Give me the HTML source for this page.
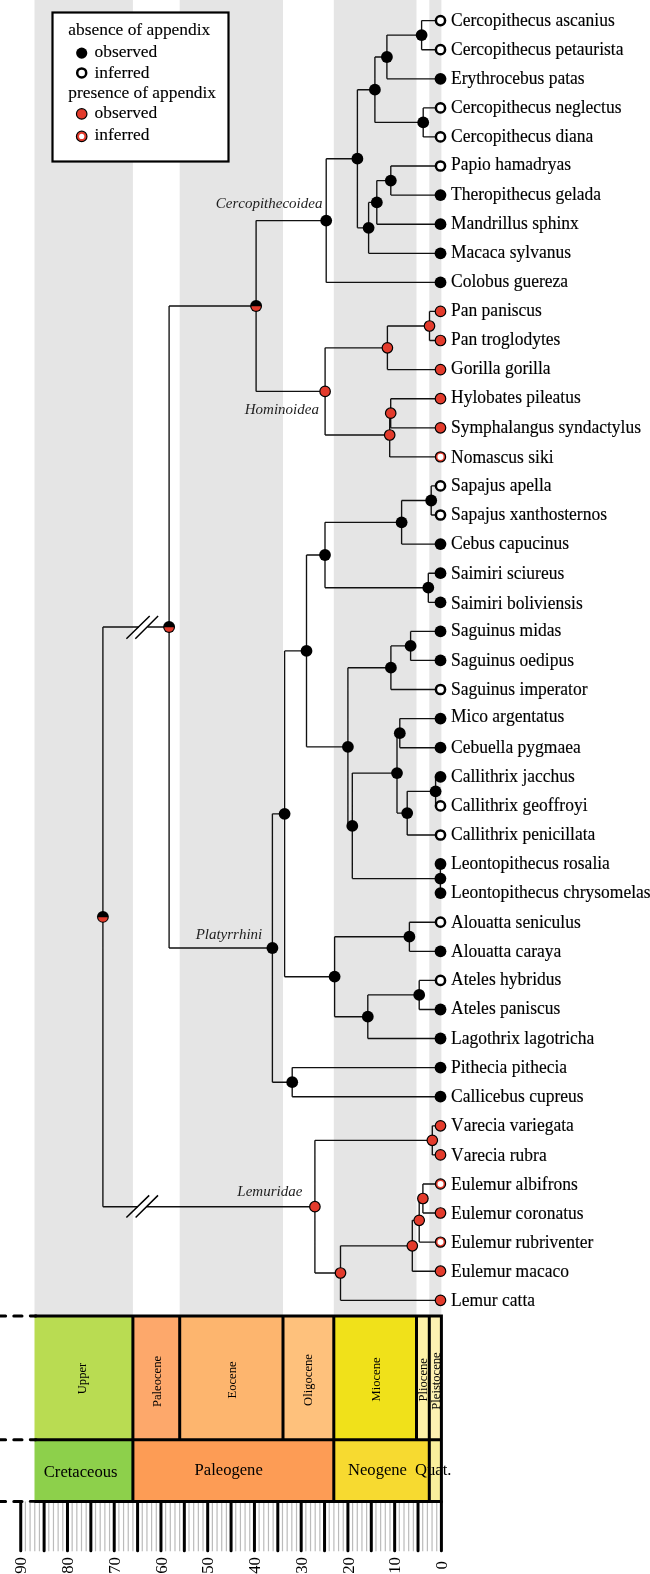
<!DOCTYPE html>
<html><head><meta charset="utf-8"><style>
html,body{margin:0;padding:0;background:#fff;}
svg{display:block;will-change:transform;}
text{font-kerning:none;}
</style></head><body>
<svg width="650" height="1574" viewBox="0 0 650 1574">
<rect x="34.5" y="0" width="98.4" height="1316" fill="#e5e5e5"/>
<rect x="179.7" y="0" width="103.3" height="1316" fill="#e5e5e5"/>
<rect x="333.8" y="0" width="82.7" height="1316" fill="#e5e5e5"/>
<rect x="429.3" y="0" width="12.1" height="1316" fill="#e5e5e5"/>
<rect x="52.5" y="12.5" width="176" height="149" fill="#fff" stroke="#000" stroke-width="2.2"/>
<text x="68.3" y="34.9" font-family="Liberation Serif" font-size="17.4" stroke="#000" stroke-width="0.12">absence of appendix</text>
<text x="94.5" y="56.8" font-family="Liberation Serif" font-size="17.4" stroke="#000" stroke-width="0.12">observed</text>
<text x="94.5" y="77.5" font-family="Liberation Serif" font-size="17.4" stroke="#000" stroke-width="0.12">inferred</text>
<text x="68.3" y="98.3" font-family="Liberation Serif" font-size="17.4" stroke="#000" stroke-width="0.12">presence of appendix</text>
<text x="94.5" y="118.2" font-family="Liberation Serif" font-size="17.4" stroke="#000" stroke-width="0.12">observed</text>
<text x="94.5" y="140.1" font-family="Liberation Serif" font-size="17.4" stroke="#000" stroke-width="0.12">inferred</text>
<circle cx="81.7" cy="53.1" r="5.60" fill="#000"/>
<circle cx="81.7" cy="72.9" r="4.50" fill="#fff" stroke="#000" stroke-width="2.5"/>
<circle cx="81.7" cy="113.9" r="5.25" fill="#e33b2c" stroke="#000" stroke-width="1.2"/>
<circle cx="81.7" cy="136.4" r="5.25" fill="#e33b2c" stroke="#000" stroke-width="1.2"/><circle cx="81.7" cy="136.4" r="2.6" fill="#fff"/>
<path d="M421.6 20.6V49.7M421.6 20.6H440.5M421.6 49.7H440.5M386.9 35.1V78.8M386.9 35.1H421.6M386.9 78.8H440.5M423.2 107.9V136.9M423.2 107.9H440.5M423.2 136.9H440.5M374.9 57.0V122.4M374.9 57.0H386.9M374.9 122.4H423.2M390.8 166.0V195.1M390.8 166.0H440.5M390.8 195.1H440.5M376.8 180.6V224.2M376.8 180.6H390.8M376.8 224.2H440.5M368.6 202.4V253.3M368.6 202.4H376.8M368.6 253.3H440.5M357.4 89.7V227.8M357.4 89.7H374.9M357.4 227.8H368.6M326.2 158.7V282.4M326.2 158.7H357.4M326.2 282.4H440.5M429.5 311.4V340.5M429.5 311.4H440.5M429.5 340.5H440.5M387.4 326.0V369.6M387.4 326.0H429.5M387.4 369.6H440.5M390.7 398.7V427.8M390.7 398.7H440.5M390.7 427.8H440.5M389.7 413.2V456.9M389.7 413.2H390.7M389.7 456.9H440.5M325.1 347.8V435.0M325.1 347.8H387.4M325.1 435.0H389.7M256.1 220.6V391.4M256.1 220.6H326.2M256.1 391.4H325.1M431.2 485.9V515.0M431.2 485.9H440.5M431.2 515.0H440.5M401.6 500.5V544.1M401.6 500.5H431.2M401.6 544.1H440.5M428.3 573.2V602.3M428.3 573.2H440.5M428.3 602.3H440.5M325.0 522.3V587.7M325.0 522.3H401.6M325.0 587.7H428.3M410.6 631.4V660.4M410.6 631.4H440.5M410.6 660.4H440.5M390.9 645.9V689.5M390.9 645.9H410.6M390.9 689.5H440.5M399.8 718.6V747.7M399.8 718.6H440.5M399.8 747.7H440.5M435.6 776.8V805.9M435.6 776.8H440.5M435.6 805.9H440.5M407.2 791.3V835.0M407.2 791.3H435.6M407.2 835.0H440.5M397.0 733.2V813.1M397.0 733.2H399.8M397.0 813.1H407.2M440.4 864.0V893.1M440.4 864.0H440.5M440.4 893.1H440.5M352.3 773.1V878.6M352.3 773.1H397.0M352.3 878.6H440.4M347.9 667.7V825.9M347.9 667.7H390.9M347.9 825.9H352.3M306.5 555.0V746.8M306.5 555.0H325.0M306.5 746.8H347.9M409.4 922.2V951.3M409.4 922.2H440.5M409.4 951.3H440.5M419.2 980.4V1009.5M419.2 980.4H440.5M419.2 1009.5H440.5M367.8 994.9V1038.5M367.8 994.9H419.2M367.8 1038.5H440.5M334.6 936.7V1016.7M334.6 936.7H409.4M334.6 1016.7H367.8M284.6 650.9V976.7M284.6 650.9H306.5M284.6 976.7H334.6M292.2 1067.6V1096.7M292.2 1067.6H440.5M292.2 1096.7H440.5M272.4 813.8V1082.2M272.4 813.8H284.6M272.4 1082.2H292.2M169.1 306.0V948.0M169.1 306.0H256.1M169.1 948.0H272.4M432.3 1125.8V1154.9M432.3 1125.8H440.5M432.3 1154.9H440.5M422.9 1184.0V1213.0M422.9 1184.0H440.5M422.9 1213.0H440.5M419.2 1198.5V1242.1M419.2 1198.5H422.9M419.2 1242.1H440.5M412.3 1220.3V1271.2M412.3 1220.3H419.2M412.3 1271.2H440.5M340.5 1245.8V1300.3M340.5 1245.8H412.3M340.5 1300.3H440.5M314.9 1140.3V1273.0M314.9 1140.3H432.3M314.9 1273.0H340.5M102.9 627.0V1206.7M102.9 627.0H138.7M147.5 627.0H169.1M102.9 1206.7H137.6M146.6 1206.7H314.9M102.9 916.8" fill="none" stroke="#111" stroke-width="1.35"/>
<path d="M126.4 638.8L149.7 616.0M135.3 638.8L158.1 616.0M126.4 1217.5L149.2 1195.4M135.6 1217.5L158.0 1195.4" stroke="#000" stroke-width="1.5" fill="none"/>
<circle cx="421.6" cy="35.1" r="5.90" fill="#000"/>
<circle cx="386.9" cy="57.0" r="5.90" fill="#000"/>
<circle cx="423.2" cy="122.4" r="5.90" fill="#000"/>
<circle cx="374.9" cy="89.7" r="5.90" fill="#000"/>
<circle cx="390.8" cy="180.6" r="5.90" fill="#000"/>
<circle cx="376.8" cy="202.4" r="5.90" fill="#000"/>
<circle cx="368.6" cy="227.8" r="5.90" fill="#000"/>
<circle cx="357.4" cy="158.7" r="5.90" fill="#000"/>
<circle cx="326.2" cy="220.6" r="5.90" fill="#000"/>
<circle cx="429.5" cy="326.0" r="5.25" fill="#e33b2c" stroke="#000" stroke-width="1.2"/>
<circle cx="387.4" cy="347.8" r="5.25" fill="#e33b2c" stroke="#000" stroke-width="1.2"/>
<circle cx="390.7" cy="413.2" r="5.25" fill="#e33b2c" stroke="#000" stroke-width="1.2"/>
<circle cx="389.7" cy="435.0" r="5.25" fill="#e33b2c" stroke="#000" stroke-width="1.2"/>
<circle cx="325.1" cy="391.4" r="5.25" fill="#e33b2c" stroke="#000" stroke-width="1.2"/>
<circle cx="256.1" cy="305.99" r="5.95" fill="#000"/><path d="M251.36 306.34A4.75 4.75 0 0 0 260.84 306.34Z" fill="#e33b2c"/>
<circle cx="431.2" cy="500.5" r="5.90" fill="#000"/>
<circle cx="401.6" cy="522.3" r="5.90" fill="#000"/>
<circle cx="428.3" cy="587.7" r="5.90" fill="#000"/>
<circle cx="325.0" cy="555.0" r="5.90" fill="#000"/>
<circle cx="410.6" cy="645.9" r="5.90" fill="#000"/>
<circle cx="390.9" cy="667.7" r="5.90" fill="#000"/>
<circle cx="399.8" cy="733.2" r="5.90" fill="#000"/>
<circle cx="435.6" cy="791.3" r="5.90" fill="#000"/>
<circle cx="407.2" cy="813.1" r="5.90" fill="#000"/>
<circle cx="397.0" cy="773.1" r="5.90" fill="#000"/>
<circle cx="440.4" cy="878.6" r="5.90" fill="#000"/>
<circle cx="352.3" cy="825.9" r="5.90" fill="#000"/>
<circle cx="347.9" cy="746.8" r="5.90" fill="#000"/>
<circle cx="306.5" cy="650.9" r="5.90" fill="#000"/>
<circle cx="409.4" cy="936.7" r="5.90" fill="#000"/>
<circle cx="419.2" cy="994.9" r="5.90" fill="#000"/>
<circle cx="367.8" cy="1016.7" r="5.90" fill="#000"/>
<circle cx="334.6" cy="976.7" r="5.90" fill="#000"/>
<circle cx="284.6" cy="813.8" r="5.90" fill="#000"/>
<circle cx="292.2" cy="1082.2" r="5.90" fill="#000"/>
<circle cx="272.4" cy="948.0" r="5.90" fill="#000"/>
<circle cx="169.1" cy="626.99" r="5.95" fill="#000"/><path d="M164.36 627.34A4.75 4.75 0 0 0 173.84 627.34Z" fill="#e33b2c"/>
<circle cx="432.3" cy="1140.3" r="5.25" fill="#e33b2c" stroke="#000" stroke-width="1.2"/>
<circle cx="422.9" cy="1198.5" r="5.25" fill="#e33b2c" stroke="#000" stroke-width="1.2"/>
<circle cx="419.2" cy="1220.3" r="5.25" fill="#e33b2c" stroke="#000" stroke-width="1.2"/>
<circle cx="412.3" cy="1245.8" r="5.25" fill="#e33b2c" stroke="#000" stroke-width="1.2"/>
<circle cx="340.5" cy="1273.0" r="5.25" fill="#e33b2c" stroke="#000" stroke-width="1.2"/>
<circle cx="314.9" cy="1206.7" r="5.25" fill="#e33b2c" stroke="#000" stroke-width="1.2"/>
<circle cx="102.9" cy="916.84" r="5.95" fill="#000"/><path d="M98.16 917.19A4.75 4.75 0 0 0 107.64 917.19Z" fill="#e33b2c"/>
<circle cx="440.5" cy="20.6" r="4.60" fill="#fff" stroke="#000" stroke-width="2.5"/>
<text transform="translate(451.0 25.70) scale(1 1.05)" font-family="Liberation Serif" font-size="17.5" stroke="#000" stroke-width="0.15">Cercopithecus ascanius</text>
<circle cx="440.5" cy="49.7" r="4.60" fill="#fff" stroke="#000" stroke-width="2.5"/>
<text transform="translate(451.0 55.02) scale(1 1.05)" font-family="Liberation Serif" font-size="17.5" stroke="#000" stroke-width="0.15">Cercopithecus petaurista</text>
<circle cx="440.5" cy="78.8" r="5.90" fill="#000"/>
<text transform="translate(451.0 83.64) scale(1 1.05)" font-family="Liberation Serif" font-size="17.5" stroke="#000" stroke-width="0.15">Erythrocebus patas</text>
<circle cx="440.5" cy="107.9" r="4.60" fill="#fff" stroke="#000" stroke-width="2.5"/>
<text transform="translate(451.0 113.25) scale(1 1.05)" font-family="Liberation Serif" font-size="17.5" stroke="#000" stroke-width="0.15">Cercopithecus neglectus</text>
<circle cx="440.5" cy="136.9" r="4.60" fill="#fff" stroke="#000" stroke-width="2.5"/>
<text transform="translate(451.0 142.37) scale(1 1.05)" font-family="Liberation Serif" font-size="17.5" stroke="#000" stroke-width="0.15">Cercopithecus diana</text>
<circle cx="440.5" cy="166.0" r="4.60" fill="#fff" stroke="#000" stroke-width="2.5"/>
<text transform="translate(451.0 170.49) scale(1 1.05)" font-family="Liberation Serif" font-size="17.5" stroke="#000" stroke-width="0.15">Papio hamadryas</text>
<circle cx="440.5" cy="195.1" r="5.90" fill="#000"/>
<text transform="translate(451.0 199.61) scale(1 1.05)" font-family="Liberation Serif" font-size="17.5" stroke="#000" stroke-width="0.15">Theropithecus gelada</text>
<circle cx="440.5" cy="224.2" r="5.90" fill="#000"/>
<text transform="translate(451.0 228.73) scale(1 1.05)" font-family="Liberation Serif" font-size="17.5" stroke="#000" stroke-width="0.15">Mandrillus sphinx</text>
<circle cx="440.5" cy="253.3" r="5.90" fill="#000"/>
<text transform="translate(451.0 257.84) scale(1 1.05)" font-family="Liberation Serif" font-size="17.5" stroke="#000" stroke-width="0.15">Macaca sylvanus</text>
<circle cx="440.5" cy="282.4" r="5.90" fill="#000"/>
<text transform="translate(451.0 286.96) scale(1 1.05)" font-family="Liberation Serif" font-size="17.5" stroke="#000" stroke-width="0.15">Colobus guereza</text>
<circle cx="440.5" cy="311.4" r="5.25" fill="#e33b2c" stroke="#000" stroke-width="1.2"/>
<text transform="translate(451.0 316.08) scale(1 1.05)" font-family="Liberation Serif" font-size="17.5" stroke="#000" stroke-width="0.15">Pan paniscus</text>
<circle cx="440.5" cy="340.5" r="5.25" fill="#e33b2c" stroke="#000" stroke-width="1.2"/>
<text transform="translate(451.0 345.20) scale(1 1.05)" font-family="Liberation Serif" font-size="17.5" stroke="#000" stroke-width="0.15">Pan troglodytes</text>
<circle cx="440.5" cy="369.6" r="5.25" fill="#e33b2c" stroke="#000" stroke-width="1.2"/>
<text transform="translate(451.0 374.32) scale(1 1.05)" font-family="Liberation Serif" font-size="17.5" stroke="#000" stroke-width="0.15">Gorilla gorilla</text>
<circle cx="440.5" cy="398.7" r="5.25" fill="#e33b2c" stroke="#000" stroke-width="1.2"/>
<text transform="translate(451.0 403.43) scale(1 1.05)" font-family="Liberation Serif" font-size="17.5" stroke="#000" stroke-width="0.15">Hylobates pileatus</text>
<circle cx="440.5" cy="427.8" r="5.25" fill="#e33b2c" stroke="#000" stroke-width="1.2"/>
<text transform="translate(451.0 432.55) scale(1 1.05)" font-family="Liberation Serif" font-size="17.5" stroke="#000" stroke-width="0.15">Symphalangus syndactylus</text>
<circle cx="440.5" cy="456.9" r="5.10" fill="#e33b2c" stroke="#000" stroke-width="1.2"/><circle cx="440.5" cy="456.9" r="3.05" fill="#fff"/>
<text transform="translate(451.0 462.67) scale(1 1.05)" font-family="Liberation Serif" font-size="17.5" stroke="#000" stroke-width="0.15">Nomascus siki</text>
<circle cx="440.5" cy="485.9" r="4.60" fill="#fff" stroke="#000" stroke-width="2.5"/>
<text transform="translate(451.0 490.79) scale(1 1.05)" font-family="Liberation Serif" font-size="17.5" stroke="#000" stroke-width="0.15">Sapajus apella</text>
<circle cx="440.5" cy="515.0" r="4.60" fill="#fff" stroke="#000" stroke-width="2.5"/>
<text transform="translate(451.0 519.91) scale(1 1.05)" font-family="Liberation Serif" font-size="17.5" stroke="#000" stroke-width="0.15">Sapajus xanthosternos</text>
<circle cx="440.5" cy="544.1" r="5.90" fill="#000"/>
<text transform="translate(451.0 549.02) scale(1 1.05)" font-family="Liberation Serif" font-size="17.5" stroke="#000" stroke-width="0.15">Cebus capucinus</text>
<circle cx="440.5" cy="573.2" r="5.90" fill="#000"/>
<text transform="translate(451.0 579.04) scale(1 1.05)" font-family="Liberation Serif" font-size="17.5" stroke="#000" stroke-width="0.15">Saimiri sciureus</text>
<circle cx="440.5" cy="602.3" r="5.90" fill="#000"/>
<text transform="translate(451.0 609.06) scale(1 1.05)" font-family="Liberation Serif" font-size="17.5" stroke="#000" stroke-width="0.15">Saimiri boliviensis</text>
<circle cx="440.5" cy="631.4" r="5.90" fill="#000"/>
<text transform="translate(451.0 636.38) scale(1 1.05)" font-family="Liberation Serif" font-size="17.5" stroke="#000" stroke-width="0.15">Saguinus midas</text>
<circle cx="440.5" cy="660.4" r="5.90" fill="#000"/>
<text transform="translate(451.0 665.50) scale(1 1.05)" font-family="Liberation Serif" font-size="17.5" stroke="#000" stroke-width="0.15">Saguinus oedipus</text>
<circle cx="440.5" cy="689.5" r="4.60" fill="#fff" stroke="#000" stroke-width="2.5"/>
<text transform="translate(451.0 694.61) scale(1 1.05)" font-family="Liberation Serif" font-size="17.5" stroke="#000" stroke-width="0.15">Saguinus imperator</text>
<circle cx="440.5" cy="718.6" r="5.90" fill="#000"/>
<text transform="translate(451.0 722.43) scale(1 1.05)" font-family="Liberation Serif" font-size="17.5" stroke="#000" stroke-width="0.15">Mico argentatus</text>
<circle cx="440.5" cy="747.7" r="5.90" fill="#000"/>
<text transform="translate(451.0 752.85) scale(1 1.05)" font-family="Liberation Serif" font-size="17.5" stroke="#000" stroke-width="0.15">Cebuella pygmaea</text>
<circle cx="440.5" cy="776.8" r="5.90" fill="#000"/>
<text transform="translate(451.0 781.97) scale(1 1.05)" font-family="Liberation Serif" font-size="17.5" stroke="#000" stroke-width="0.15">Callithrix jacchus</text>
<circle cx="440.5" cy="805.9" r="4.60" fill="#fff" stroke="#000" stroke-width="2.5"/>
<text transform="translate(451.0 811.09) scale(1 1.05)" font-family="Liberation Serif" font-size="17.5" stroke="#000" stroke-width="0.15">Callithrix geoffroyi</text>
<circle cx="440.5" cy="835.0" r="4.60" fill="#fff" stroke="#000" stroke-width="2.5"/>
<text transform="translate(451.0 840.20) scale(1 1.05)" font-family="Liberation Serif" font-size="17.5" stroke="#000" stroke-width="0.15">Callithrix penicillata</text>
<circle cx="440.5" cy="864.0" r="5.90" fill="#000"/>
<text transform="translate(451.0 869.32) scale(1 1.05)" font-family="Liberation Serif" font-size="17.5" stroke="#000" stroke-width="0.15">Leontopithecus rosalia</text>
<circle cx="440.5" cy="893.1" r="5.90" fill="#000"/>
<text transform="translate(451.0 898.44) scale(1 1.05)" font-family="Liberation Serif" font-size="17.5" stroke="#000" stroke-width="0.15">Leontopithecus chrysomelas</text>
<circle cx="440.5" cy="922.2" r="4.60" fill="#fff" stroke="#000" stroke-width="2.5"/>
<text transform="translate(451.0 928.46) scale(1 1.05)" font-family="Liberation Serif" font-size="17.5" stroke="#000" stroke-width="0.15">Alouatta seniculus</text>
<circle cx="440.5" cy="951.3" r="5.90" fill="#000"/>
<text transform="translate(451.0 956.68) scale(1 1.05)" font-family="Liberation Serif" font-size="17.5" stroke="#000" stroke-width="0.15">Alouatta caraya</text>
<circle cx="440.5" cy="980.4" r="4.60" fill="#fff" stroke="#000" stroke-width="2.5"/>
<text transform="translate(451.0 984.89) scale(1 1.05)" font-family="Liberation Serif" font-size="17.5" stroke="#000" stroke-width="0.15">Ateles hybridus</text>
<circle cx="440.5" cy="1009.5" r="5.90" fill="#000"/>
<text transform="translate(451.0 1014.01) scale(1 1.05)" font-family="Liberation Serif" font-size="17.5" stroke="#000" stroke-width="0.15">Ateles paniscus</text>
<circle cx="440.5" cy="1038.5" r="5.90" fill="#000"/>
<text transform="translate(451.0 1044.03) scale(1 1.05)" font-family="Liberation Serif" font-size="17.5" stroke="#000" stroke-width="0.15">Lagothrix lagotricha</text>
<circle cx="440.5" cy="1067.6" r="5.90" fill="#000"/>
<text transform="translate(451.0 1073.15) scale(1 1.05)" font-family="Liberation Serif" font-size="17.5" stroke="#000" stroke-width="0.15">Pithecia pithecia</text>
<circle cx="440.5" cy="1096.7" r="5.90" fill="#000"/>
<text transform="translate(451.0 1102.27) scale(1 1.05)" font-family="Liberation Serif" font-size="17.5" stroke="#000" stroke-width="0.15">Callicebus cupreus</text>
<circle cx="440.5" cy="1125.8" r="5.25" fill="#e33b2c" stroke="#000" stroke-width="1.2"/>
<text transform="translate(451.0 1131.38) scale(1 1.05)" font-family="Liberation Serif" font-size="17.5" stroke="#000" stroke-width="0.15">Varecia variegata</text>
<circle cx="440.5" cy="1154.9" r="5.25" fill="#e33b2c" stroke="#000" stroke-width="1.2"/>
<text transform="translate(451.0 1160.50) scale(1 1.05)" font-family="Liberation Serif" font-size="17.5" stroke="#000" stroke-width="0.15">Varecia rubra</text>
<circle cx="440.5" cy="1184.0" r="5.10" fill="#e33b2c" stroke="#000" stroke-width="1.2"/><circle cx="440.5" cy="1184.0" r="3.05" fill="#fff"/>
<text transform="translate(451.0 1189.62) scale(1 1.05)" font-family="Liberation Serif" font-size="17.5" stroke="#000" stroke-width="0.15">Eulemur albifrons</text>
<circle cx="440.5" cy="1213.0" r="5.25" fill="#e33b2c" stroke="#000" stroke-width="1.2"/>
<text transform="translate(451.0 1218.74) scale(1 1.05)" font-family="Liberation Serif" font-size="17.5" stroke="#000" stroke-width="0.15">Eulemur coronatus</text>
<circle cx="440.5" cy="1242.1" r="5.10" fill="#e33b2c" stroke="#000" stroke-width="1.2"/><circle cx="440.5" cy="1242.1" r="3.05" fill="#fff"/>
<text transform="translate(451.0 1247.86) scale(1 1.05)" font-family="Liberation Serif" font-size="17.5" stroke="#000" stroke-width="0.15">Eulemur rubriventer</text>
<circle cx="440.5" cy="1271.2" r="5.25" fill="#e33b2c" stroke="#000" stroke-width="1.2"/>
<text transform="translate(451.0 1276.97) scale(1 1.05)" font-family="Liberation Serif" font-size="17.5" stroke="#000" stroke-width="0.15">Eulemur macaco</text>
<circle cx="440.5" cy="1300.3" r="5.25" fill="#e33b2c" stroke="#000" stroke-width="1.2"/>
<text transform="translate(451.0 1306.09) scale(1 1.05)" font-family="Liberation Serif" font-size="17.5" stroke="#000" stroke-width="0.15">Lemur catta</text>
<text x="322.4" y="207.9" text-anchor="end" font-family="Liberation Serif" font-size="15" font-style="italic" fill="#1e1e1e">Cercopithecoidea</text>
<text x="318.9" y="414.4" text-anchor="end" font-family="Liberation Serif" font-size="15" font-style="italic" fill="#1e1e1e">Hominoidea</text>
<text x="262.3" y="939.0" text-anchor="end" font-family="Liberation Serif" font-size="15" font-style="italic" fill="#1e1e1e">Platyrrhini</text>
<text x="302.3" y="1196" text-anchor="end" font-family="Liberation Serif" font-size="15" font-style="italic" fill="#1e1e1e">Lemuridae</text>
<rect x="34.5" y="1316.0" width="98.4" height="123.7" fill="#b9dc52"/>
<rect x="132.9" y="1316.0" width="46.7" height="123.7" fill="#fda86b"/>
<rect x="179.7" y="1316.0" width="103.3" height="123.7" fill="#fdb56e"/>
<rect x="283.0" y="1316.0" width="50.8" height="123.7" fill="#fec17c"/>
<rect x="333.8" y="1316.0" width="82.7" height="123.7" fill="#f0e11a"/>
<rect x="416.5" y="1316.0" width="12.9" height="123.7" fill="#fdf1a8"/>
<rect x="429.3" y="1316.0" width="12.1" height="123.7" fill="#fdf1b2"/>
<rect x="34.5" y="1439.7" width="98.4" height="61.7" fill="#8dd04b"/>
<rect x="132.9" y="1439.7" width="200.8" height="61.7" fill="#fd9c55"/>
<rect x="333.8" y="1439.7" width="95.6" height="61.7" fill="#f7da30"/>
<rect x="429.3" y="1439.7" width="12.1" height="61.7" fill="#f9ef9c"/>
<text transform="translate(86.0,1378.5) rotate(-90)" text-anchor="middle" font-family="Liberation Serif" font-size="12.6">Upper</text>
<text transform="translate(161.2,1381.5) rotate(-90)" text-anchor="middle" font-family="Liberation Serif" font-size="12.6">Paleocene</text>
<text transform="translate(236.0,1380) rotate(-90)" text-anchor="middle" font-family="Liberation Serif" font-size="12.6">Eocene</text>
<text transform="translate(312,1380) rotate(-90)" text-anchor="middle" font-family="Liberation Serif" font-size="12.6">Oligocene</text>
<text transform="translate(380.4,1379.5) rotate(-90)" text-anchor="middle" font-family="Liberation Serif" font-size="12.6">Miocene</text>
<text transform="translate(427.3,1379.8) rotate(-90)" text-anchor="middle" font-family="Liberation Serif" font-size="12.6">Pliocene</text>
<text transform="translate(440.4,1381) rotate(-90)" text-anchor="middle" font-family="Liberation Serif" font-size="12.6">Pleistocene</text>
<text x="43.8" y="1476.8" font-family="Liberation Serif" font-size="16.6">Cretaceous</text>
<text x="194.6" y="1474.5" font-family="Liberation Serif" font-size="16.6">Paleogene</text>
<text x="348" y="1474.5" font-family="Liberation Serif" font-size="16.6">Neogene</text>
<text x="415" y="1474.5" font-family="Liberation Serif" font-size="16.6">Quat.</text>
<path d="M436.73 1501.4V1551.3M432.05 1501.4V1551.3M427.38 1501.4V1551.3M422.70 1501.4V1551.3M413.36 1501.4V1551.3M408.68 1501.4V1551.3M404.01 1501.4V1551.3M399.33 1501.4V1551.3M389.99 1501.4V1551.3M385.31 1501.4V1551.3M380.64 1501.4V1551.3M375.96 1501.4V1551.3M366.62 1501.4V1551.3M361.94 1501.4V1551.3M357.27 1501.4V1551.3M352.59 1501.4V1551.3M343.25 1501.4V1551.3M338.57 1501.4V1551.3M333.90 1501.4V1551.3M329.22 1501.4V1551.3M319.88 1501.4V1551.3M315.20 1501.4V1551.3M310.53 1501.4V1551.3M305.85 1501.4V1551.3M296.51 1501.4V1551.3M291.83 1501.4V1551.3M287.16 1501.4V1551.3M282.48 1501.4V1551.3M273.14 1501.4V1551.3M268.46 1501.4V1551.3M263.79 1501.4V1551.3M259.11 1501.4V1551.3M249.77 1501.4V1551.3M245.09 1501.4V1551.3M240.42 1501.4V1551.3M235.74 1501.4V1551.3M226.40 1501.4V1551.3M221.72 1501.4V1551.3M217.05 1501.4V1551.3M212.37 1501.4V1551.3M203.03 1501.4V1551.3M198.35 1501.4V1551.3M193.68 1501.4V1551.3M189.00 1501.4V1551.3M179.66 1501.4V1551.3M174.98 1501.4V1551.3M170.31 1501.4V1551.3M165.63 1501.4V1551.3M156.29 1501.4V1551.3M151.61 1501.4V1551.3M146.94 1501.4V1551.3M142.26 1501.4V1551.3M132.92 1501.4V1551.3M128.24 1501.4V1551.3M123.57 1501.4V1551.3M118.89 1501.4V1551.3M109.55 1501.4V1551.3M104.87 1501.4V1551.3M100.20 1501.4V1551.3M95.52 1501.4V1551.3M86.18 1501.4V1551.3M81.50 1501.4V1551.3M76.83 1501.4V1551.3M72.15 1501.4V1551.3M62.81 1501.4V1551.3M58.13 1501.4V1551.3M53.46 1501.4V1551.3M48.78 1501.4V1551.3M39.44 1501.4V1551.3M34.76 1501.4V1551.3M30.09 1501.4V1551.3M25.41 1501.4V1551.3" stroke="#bbbbbb" stroke-width="1.2" fill="none"/>
<path d="M441.40 1501.4V1550.8M418.03 1501.4V1550.8M394.66 1501.4V1550.8M371.29 1501.4V1550.8M347.92 1501.4V1550.8M324.55 1501.4V1550.8M301.18 1501.4V1550.8M277.81 1501.4V1550.8M254.44 1501.4V1550.8M231.07 1501.4V1550.8M207.70 1501.4V1550.8M184.33 1501.4V1550.8M160.96 1501.4V1550.8M137.59 1501.4V1550.8M114.22 1501.4V1550.8M90.85 1501.4V1550.8M67.48 1501.4V1550.8M44.11 1501.4V1550.8M20.74 1501.4V1550.8" stroke="#000" stroke-width="3" stroke-linecap="round" fill="none"/>
<path d="M34.5 1316.0H441.4M34.5 1439.7H441.4M34.5 1501.4H441.4M132.9 1314.6V1502.8000000000002M179.7 1314.6V1441.1000000000001M283.0 1314.6V1441.1000000000001M333.8 1314.6V1502.8000000000002M416.5 1314.6V1441.1000000000001M429.3 1314.6V1502.8000000000002M441.4 1314.6V1502.8000000000002" stroke="#000" stroke-width="3.0" fill="none"/>
<path d="M22.0 1316.0H-20" stroke="#000" stroke-width="3" stroke-dasharray="8.2 8.2" stroke-linecap="round" fill="none"/>
<path d="M30.3 1316.0H36" stroke="#000" stroke-width="2.9" stroke-linecap="round" fill="none"/>
<path d="M22.0 1439.7H-20" stroke="#000" stroke-width="3" stroke-dasharray="8.2 8.2" stroke-linecap="round" fill="none"/>
<path d="M30.3 1439.7H36" stroke="#000" stroke-width="2.9" stroke-linecap="round" fill="none"/>
<path d="M22.0 1501.4H-20" stroke="#000" stroke-width="3" stroke-dasharray="8.2 8.2" stroke-linecap="round" fill="none"/>
<path d="M30.3 1501.4H36" stroke="#000" stroke-width="2.9" stroke-linecap="round" fill="none"/>
<text transform="translate(447.10,1565.4) rotate(-90)" text-anchor="middle" font-family="Liberation Serif" font-size="16.8">0</text>
<text transform="translate(400.36,1565.4) rotate(-90)" text-anchor="middle" font-family="Liberation Serif" font-size="16.8">10</text>
<text transform="translate(353.62,1565.4) rotate(-90)" text-anchor="middle" font-family="Liberation Serif" font-size="16.8">20</text>
<text transform="translate(306.88,1565.4) rotate(-90)" text-anchor="middle" font-family="Liberation Serif" font-size="16.8">30</text>
<text transform="translate(260.14,1565.4) rotate(-90)" text-anchor="middle" font-family="Liberation Serif" font-size="16.8">40</text>
<text transform="translate(213.40,1565.4) rotate(-90)" text-anchor="middle" font-family="Liberation Serif" font-size="16.8">50</text>
<text transform="translate(166.66,1565.4) rotate(-90)" text-anchor="middle" font-family="Liberation Serif" font-size="16.8">60</text>
<text transform="translate(119.92,1565.4) rotate(-90)" text-anchor="middle" font-family="Liberation Serif" font-size="16.8">70</text>
<text transform="translate(73.18,1565.4) rotate(-90)" text-anchor="middle" font-family="Liberation Serif" font-size="16.8">80</text>
<text transform="translate(26.44,1565.4) rotate(-90)" text-anchor="middle" font-family="Liberation Serif" font-size="16.8">90</text>
</svg>
</body></html>
